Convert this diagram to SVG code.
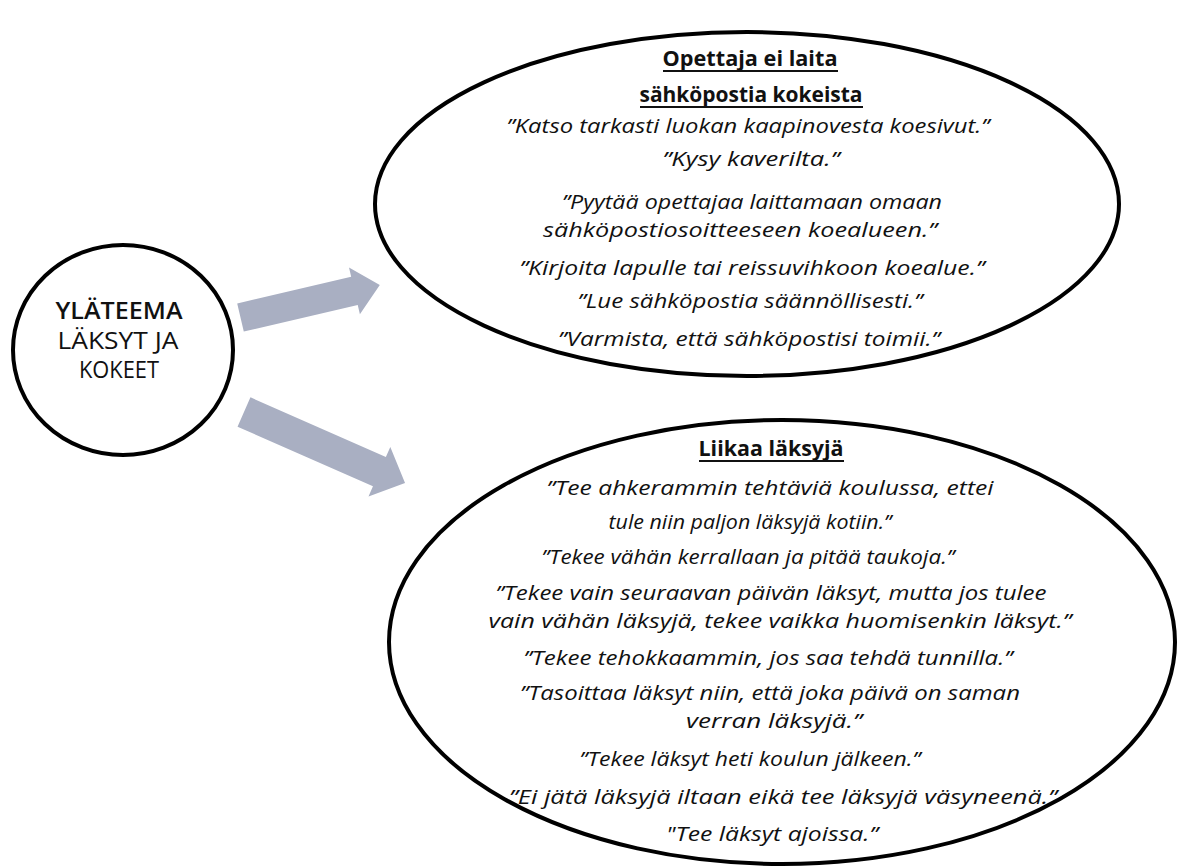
<svg xmlns="http://www.w3.org/2000/svg" width="1181" height="867" viewBox="0 0 1181 867">
  <style>
    .bg { fill: #ffffff; }
    .shape { fill: #ffffff; stroke: #000000; stroke-width: 4; }
    .arrow { fill: #a9afc2; }
    .hub { font-family: "Open Sans", "DejaVu Sans", sans-serif; fill: #111111; text-anchor: middle; font-size: 23px; }
    .hub-b { font-weight: 600; }
    .head { font-family: "Open Sans", "Liberation Sans", sans-serif; font-weight: bold; font-size: 22px; fill: #111111; text-anchor: middle; }
    .q { font-family: "Open Sans", "Noto Sans", "Liberation Sans", sans-serif; font-style: italic; font-size: 20.5px; fill: #111111; text-anchor: middle; }
    .ul { stroke: #111111; stroke-width: 1.8; }
  </style>

  <rect class="bg" x="0" y="0" width="1181" height="867"/>

  <!-- connectors: broad block arrows from the main theme to both topics -->
  <g id="connectors">
    <polygon class="arrow" transform="translate(240.5,317.5) rotate(-13.1)"
             points="0,-14.5 117,-14.5 117,-24 143,0 117,24 117,14.5 0,14.5"/>
    <polygon class="arrow" transform="translate(244,412) rotate(23.8)"
             points="0,-16 148,-16 148,-27 176,0 148,27 148,16 0,16"/>
  </g>

  <!-- main theme -->
  <g id="node-theme">
    <ellipse class="shape" cx="123" cy="350" rx="110" ry="105" stroke-width="3.2"/>
    <text class="hub hub-b" x="119" y="319" textLength="127" lengthAdjust="spacingAndGlyphs">YLÄTEEMA</text>
    <text class="hub" x="118" y="349" textLength="121" lengthAdjust="spacingAndGlyphs">LÄKSYT JA</text>
    <text class="hub" x="119" y="378" textLength="80" lengthAdjust="spacingAndGlyphs">KOKEET</text>
  </g>

  <!-- topic: exam info not sent by e-mail -->
  <g id="node-email">
    <ellipse class="shape" cx="747" cy="204" rx="372" ry="172"/>
    <text class="head" x="750" y="66" textLength="175" lengthAdjust="spacingAndGlyphs">Opettaja ei laita</text>
    <line class="ul" x1="663" y1="71" x2="838" y2="71"/>
    <text class="head" x="751" y="102" textLength="223" lengthAdjust="spacingAndGlyphs">sähköpostia kokeista</text>
    <line class="ul" x1="640" y1="107" x2="863" y2="107"/>
    <text class="q" x="748" y="133" textLength="483" lengthAdjust="spacingAndGlyphs">”Katso tarkasti luokan kaapinovesta koesivut.”</text>
    <text class="q" x="751" y="166" textLength="177" lengthAdjust="spacingAndGlyphs">”Kysy kaverilta.”</text>
    <text class="q" x="752" y="209" textLength="380" lengthAdjust="spacingAndGlyphs">”Pyytää opettajaa laittamaan omaan</text>
    <text class="q" x="740" y="237" textLength="394" lengthAdjust="spacingAndGlyphs">sähköpostiosoitteeseen koealueen.”</text>
    <text class="q" x="752" y="275" textLength="465" lengthAdjust="spacingAndGlyphs">”Kirjoita lapulle tai reissuvihkoon koealue.”</text>
    <text class="q" x="750" y="308" textLength="345" lengthAdjust="spacingAndGlyphs">”Lue sähköpostia säännöllisesti.”</text>
    <text class="q" x="749" y="346" textLength="382" lengthAdjust="spacingAndGlyphs">”Varmista, että sähköpostisi toimii.”</text>
  </g>

  <!-- topic: too much homework -->
  <g id="node-homework">
    <ellipse class="shape" cx="782" cy="642" rx="393" ry="222"/>
    <text class="head" x="771" y="456" textLength="145" lengthAdjust="spacingAndGlyphs">Liikaa läksyjä</text>
    <line class="ul" x1="699" y1="461" x2="844" y2="461"/>
    <text class="q" x="770" y="495" textLength="447" lengthAdjust="spacingAndGlyphs">”Tee ahkerammin tehtäviä koulussa, ettei</text>
    <text class="q" x="750" y="529" textLength="283" lengthAdjust="spacingAndGlyphs">tule niin paljon läksyjä kotiin.”</text>
    <text class="q" x="748" y="564" textLength="413" lengthAdjust="spacingAndGlyphs">”Tekee vähän kerrallaan ja pitää taukoja.”</text>
    <text class="q" x="771" y="600" textLength="551" lengthAdjust="spacingAndGlyphs">”Tekee vain seuraavan päivän läksyt, mutta jos tulee</text>
    <text class="q" x="780" y="628" textLength="583" lengthAdjust="spacingAndGlyphs">vain vähän läksyjä, tekee vaikka huomisenkin läksyt.”</text>
    <text class="q" x="768" y="665" textLength="489" lengthAdjust="spacingAndGlyphs">”Tekee tehokkaammin, jos saa tehdä tunnilla.”</text>
    <text class="q" x="770" y="700" textLength="500" lengthAdjust="spacingAndGlyphs">”Tasoittaa läksyt niin, että joka päivä on saman</text>
    <text class="q" x="774" y="728" textLength="176" lengthAdjust="spacingAndGlyphs">verran läksyjä.”</text>
    <text class="q" x="750" y="766" textLength="341" lengthAdjust="spacingAndGlyphs">”Tekee läksyt heti koulun jälkeen.”</text>
    <text class="q" x="783" y="804" textLength="548" lengthAdjust="spacingAndGlyphs">”Ei jätä läksyjä iltaan eikä tee läksyjä väsyneenä.”</text>
    <text class="q" x="772" y="841" textLength="212" lengthAdjust="spacingAndGlyphs">"Tee läksyt ajoissa.”</text>
  </g>
</svg>
